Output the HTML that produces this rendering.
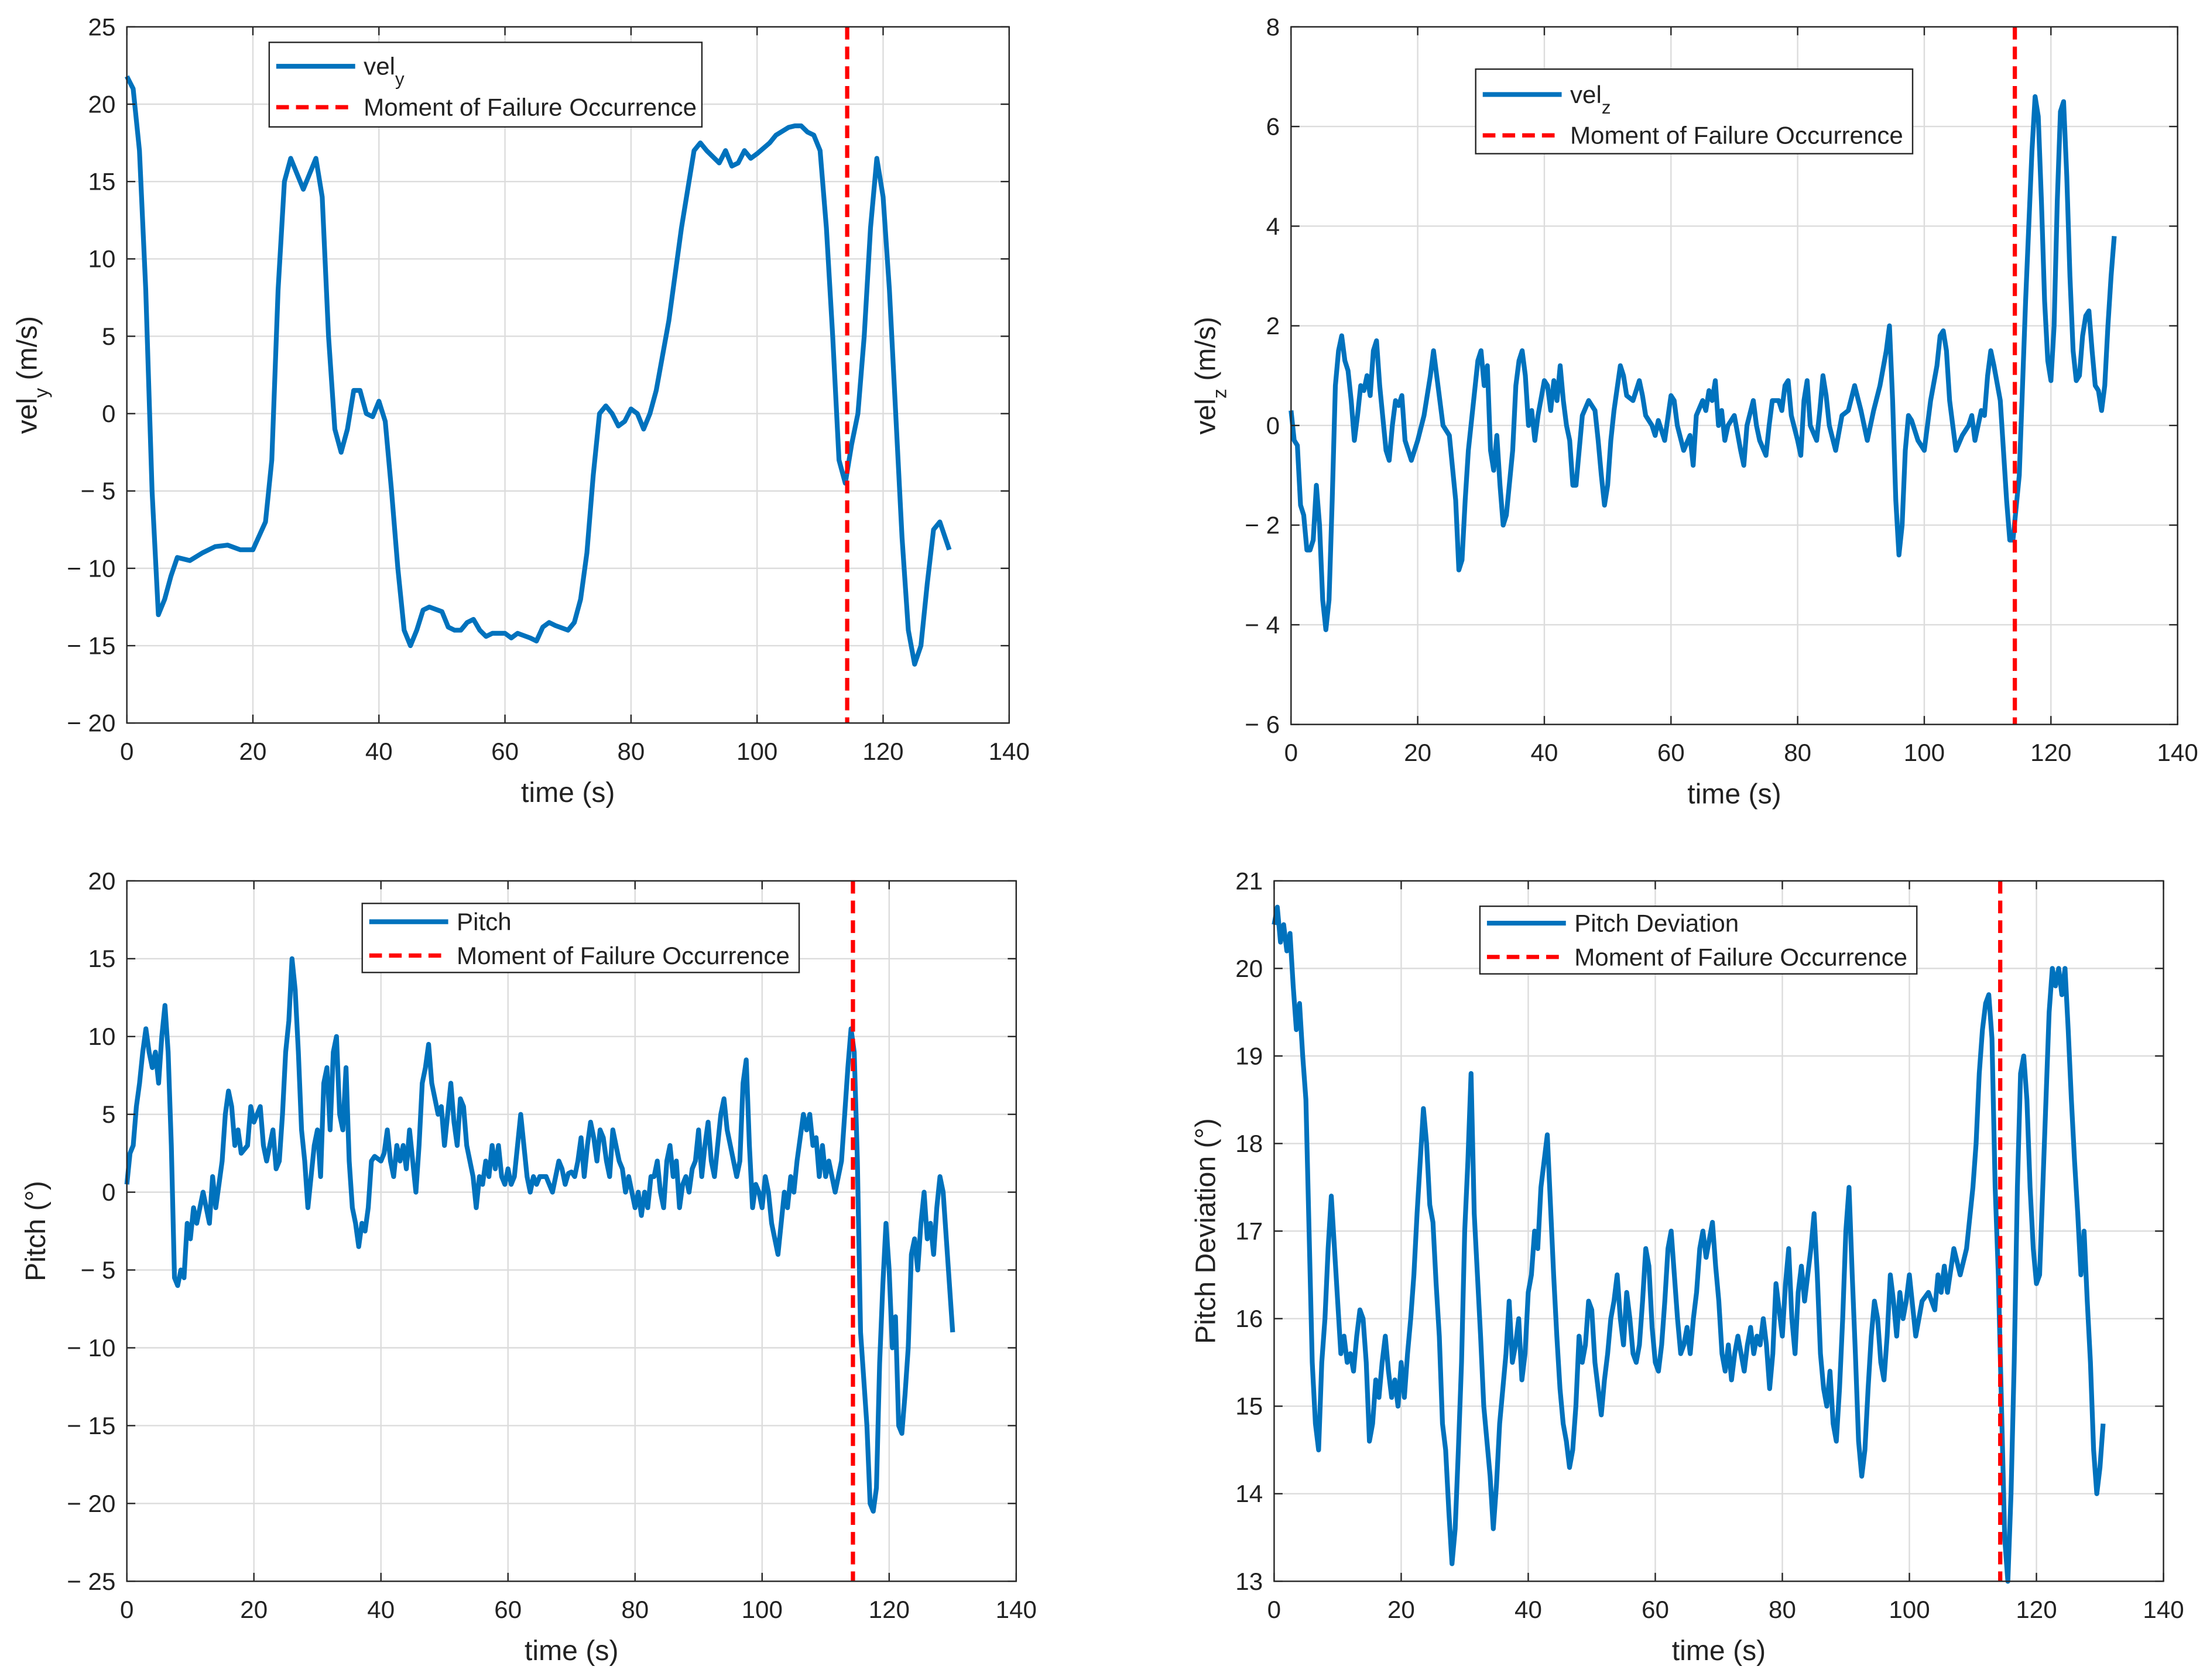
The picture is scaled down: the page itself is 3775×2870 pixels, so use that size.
<!DOCTYPE html>
<html><head><meta charset="utf-8"><style>
html,body{margin:0;padding:0;background:#fff}
svg{display:block}
text{font-family:"Liberation Sans",Arial,sans-serif;fill:#222}
</style></head><body>
<svg id="fig" xmlns="http://www.w3.org/2000/svg" width="3775" height="2870" viewBox="0 0 1568 1192"></svg>
<script>
// ---------- data ----------
const failureTime = 114.3;
const xTicks = [0,20,40,60,80,100,120,140];

const velYTime = [0,1,2,3,4,5,6,7,8,10,12,14,16,18,20,22,23,24,25,26,28,30,31,32,33,34,35,36,37,38,39,40,41,42,43,44,45,46,47,48,50,51,52,53,54,55,56,57,58,60,61,62,64,65,66,67,68,70,71,72,73,74,75,76,77,78,79,80,81,82,83,84,86,88,90,91,92,94,95,96,97,98,99,100,102,103,105,106,107,108,109,110,111,112,113,114,115,116,117,118,119,120,121,122,123,124,125,126,127,128,129,130.5];
const velYValues = [21.8,21,17,8,-5,-13,-12,-10.5,-9.3,-9.5,-9,-8.6,-8.5,-8.8,-8.8,-7,-3,8,15,16.5,14.5,16.5,14,5,-1,-2.5,-1,1.5,1.5,0,-0.2,0.8,-0.5,-5,-10,-14,-15,-14,-12.7,-12.5,-12.8,-13.8,-14,-14,-13.5,-13.3,-14,-14.4,-14.2,-14.2,-14.5,-14.2,-14.5,-14.7,-13.8,-13.5,-13.7,-14,-13.5,-12,-9,-4,0,0.5,0,-0.8,-0.5,0.3,0,-1,0,1.5,6,12,17,17.5,17,16.2,17,16,16.2,17,16.5,16.8,17.5,18,18.5,18.6,18.6,18.2,18,17,12,5,-3,-4.5,-2,0,5,12,16.5,14,8,0,-8,-14,-16.2,-15,-11,-7.5,-7,-8.8];
const velYTicks = [25,20,15,10,5,0,-5,-10,-15,-20];

const velZTime = [0,0.5,1,1.5,2,2.5,3,3.5,4,4.5,5,5.5,6,6.5,7,7.5,8,8.5,9,9.5,10,10.5,11,11.5,12,12.5,13,13.5,14,15,15.5,16,16.5,17,17.5,18,19,20,21,22,22.5,23,24,25,26,26.5,27,27.5,28,29,29.5,30,30.5,31,31.5,32,32.5,33,33.5,34,35,35.5,36,36.5,37,37.5,38,38.5,39,40,40.5,41,41.5,42,42.5,43,43.5,44,44.5,45,45.5,46,47,48,48.5,49,49.5,50,50.5,51,52,52.5,53,54,55,55.5,56,57,57.5,58,59,60,60.5,61,62,63,63.5,64,65,65.5,66,66.5,67,67.5,68,68.5,69,70,71,71.5,72,73,73.5,74,75,75.5,76,77,77.5,78,78.5,79,80,80.5,81,81.5,82,83,83.5,84,84.5,85,86,87,88,89,90,91,92,93,94,94.5,95,95.5,96,96.5,97,97.5,98,99,100,100.5,101,102,102.5,103,103.5,104,104.5,105,106,107,107.5,108,109,109.5,110,110.5,111,112,112.5,113,113.5,114,115,116,117,117.5,118,118.5,119,119.5,120,120.5,121,121.5,122,122.5,123,123.5,124,124.5,125,125.5,126,126.5,127,127.5,128,128.5,129,129.5,130];
const velZValues = [0.3,-0.3,-0.4,-1.6,-1.8,-2.5,-2.5,-2.3,-1.2,-2,-3.5,-4.1,-3.5,-1.5,0.8,1.5,1.8,1.3,1.1,0.5,-0.3,0.2,0.8,0.7,1.0,0.6,1.5,1.7,0.8,-0.5,-0.7,0,0.5,0.4,0.6,-0.3,-0.7,-0.3,0.2,1.0,1.5,1.0,0,-0.2,-1.5,-2.9,-2.7,-1.5,-0.5,0.7,1.3,1.5,0.8,1.2,-0.5,-0.9,-0.2,-1.2,-2.0,-1.8,-0.5,0.8,1.3,1.5,1.0,0,0.3,-0.3,0.2,0.9,0.8,0.3,0.9,0.5,1.2,0.5,0,-0.3,-1.2,-1.2,-0.5,0.2,0.5,0.3,-0.3,-1.0,-1.6,-1.2,-0.3,0.3,1.2,1.0,0.6,0.5,0.9,0.6,0.2,0,-0.2,0.1,-0.3,0.6,0.5,0,-0.5,-0.2,-0.8,0.2,0.5,0.3,0.7,0.5,0.9,0,0.3,-0.3,0,0.2,-0.5,-0.8,0,0.5,0,-0.3,-0.6,0,0.5,0.5,0.3,0.8,0.9,0.2,-0.3,-0.6,0.5,0.9,0,-0.3,0.3,1.0,0.6,0,-0.5,0.2,0.3,0.8,0.3,-0.3,0.3,0.8,1.5,2.0,0.5,-1.5,-2.6,-2.0,-0.5,0.2,0.1,-0.3,-0.5,0,0.5,1.2,1.8,1.9,1.5,0.5,0,-0.5,-0.2,0,0.2,-0.3,0.3,0.2,1.0,1.5,1.2,0.5,-0.5,-1.5,-2.3,-2.3,-1,2.5,5.5,6.6,6.2,4.5,2.5,1.3,0.9,2,4.5,6.3,6.5,5,3,1.5,0.9,1.0,1.8,2.2,2.3,1.5,0.8,0.7,0.3,0.8,2.0,3.0,3.8];
const velZTicks = [8,6,4,2,0,-2,-4,-6];

const pitchTime = [0,0.5,1,1.5,2,2.5,3,3.5,4,4.5,5,5.5,6,6.5,7,7.5,8,8.5,9,9.5,10,10.5,11,11.5,12,12.5,13,13.5,14,15,15.5,16,16.5,17,17.5,18,19,19.5,20,21,21.5,22,22.5,23,23.5,24,24.5,25,25.5,26,26.5,27,27.5,28,28.5,29,29.5,30,30.5,31,31.5,32,32.5,33,33.5,34,34.5,35,35.5,36,36.5,37,37.5,38,38.5,39,40,40.5,41,41.5,42,42.5,43,43.5,44,44.5,45,45.5,46,46.5,47,47.5,48,48.5,49,49.5,50,50.5,51,51.5,52,52.5,53,53.5,54,54.5,55,55.5,56,56.5,57,57.5,58,58.5,59,59.5,60,60.5,61,61.5,62,62.5,63,63.5,64,64.5,65,65.5,66,66.5,67,67.5,68,68.5,69,69.5,70,70.5,71,71.5,72,72.5,73,73.5,74,74.5,75,75.5,76,76.5,77,77.5,78,78.5,79,79.5,80,80.5,81,81.5,82,82.5,83,83.5,84,84.5,85,85.5,86,86.5,87,87.5,88,88.5,89,89.5,90,90.5,91,91.5,92,92.5,93,93.5,94,94.5,95,95.5,96,96.5,97,97.5,98,98.5,99,99.5,100,100.5,101,101.5,102,102.5,103,103.5,104,104.5,105,105.5,106,106.5,107,107.5,108,108.5,109,109.5,110,110.5,111,111.5,112,112.5,113,113.5,114,114.5,115,115.5,116,116.5,117,117.5,118,118.5,119,119.5,120,120.5,121,121.5,122,122.5,123,123.5,124,124.5,125,125.5,126,126.5,127,127.5,128,128.5,129,129.5,130];
const pitchValues = [0.5,2.5,3,5.5,7,9,10.5,9,8,9,7,10,12,9,3,-5.5,-6,-5,-5.5,-2,-3,-1,-2,-1,0,-1,-2,1,-1,2,5,6.5,5.5,3,4,2.5,3,5.5,4.5,5.5,3,2,3,4,1.5,2,5,9,11,15,13,9,4,2,-1,1,3,4,1,7,8,4,9,10,5,4,8,2,-1,-2,-3.5,-2,-2.5,-1,2,2.3,2,2.5,4,2,1,3,2,3,1.5,4,2,0,3,7,8,9.5,7,6,5,5.5,3,5,7,4.5,3,6,5.5,3,2,1,-1,1,0.5,2,1,3,1.5,3,1,0.5,1.5,0.5,1,3,5,3,1,0,1,0.5,1,1,1,0.5,0,1,2,1.5,0.5,1.2,1.3,1,2,3.5,1,3,4.5,3.5,2,4,3.5,2,1,4,3,2,1.5,0,1,0,-1,0,-1.5,0,-1,1,1,2,0,-1,2,3,1,2,-1,0.5,1,0,1.5,2,4,1,3,4.5,2,1,3,5,6,4,3,2,1,2,7,8.5,3,-1,0.5,0,-1,1,0,-2,-3,-4,-2,0,-1,1,0,2,3.5,5,4,5,3,3.5,1,3,1,2,1,0,1,2,5,8,10.5,9,2,-9,-12,-15,-20,-20.5,-19,-11,-6,-2,-5,-10,-8,-15,-15.5,-13,-10,-4,-3,-5,-2,0,-3,-2,-4,-1,1,0,-3,-6,-9];
const pitchTicks = [20,15,10,5,0,-5,-10,-15,-20,-25];

const devTime = [0,0.5,1,1.5,2,2.5,3,3.5,4,4.5,5,5.5,6,6.5,7,7.5,8,8.5,9,9.5,10,10.5,11,11.5,12,12.5,13,13.5,14,14.5,15,15.5,16,16.5,17,17.5,18,18.5,19,19.5,20,20.5,21,21.5,22,22.5,23,23.5,24,24.5,25,25.5,26,26.5,27,27.5,28,28.5,29,29.5,30,30.5,31,31.5,32,32.5,33,33.5,34,34.5,35,35.5,36,36.5,37,37.5,38,38.5,39,39.5,40,40.5,41,41.5,42,42.5,43,43.5,44,44.5,45,45.5,46,46.5,47,47.5,48,48.5,49,49.5,50,50.5,51,51.5,52,52.5,53,53.5,54,54.5,55,55.5,56,56.5,57,57.5,58,58.5,59,59.5,60,60.5,61,61.5,62,62.5,63,63.5,64,64.5,65,65.5,66,66.5,67,67.5,68,68.5,69,69.5,70,70.5,71,71.5,72,72.5,73,73.5,74,74.5,75,75.5,76,76.5,77,77.5,78,78.5,79,79.5,80,80.5,81,81.5,82,82.5,83,83.5,84,84.5,85,85.5,86,86.5,87,87.5,88,88.5,89,89.5,90,90.5,91,91.5,92,92.5,93,93.5,94,94.5,95,95.5,96,96.5,97,97.5,98,98.5,99,99.5,100,101,102,103,104,104.5,105,105.5,106,107,108,109,110,110.5,111,111.5,112,112.5,113,113.5,114,114.5,115,115.5,116,116.5,117,117.5,118,118.5,119,119.5,120,120.5,121,121.5,122,122.5,123,123.5,124,124.5,125,125.5,126,126.5,127,127.5,128,128.5,129,129.5,130,130.5];
const devValues = [20.5,20.7,20.3,20.5,20.2,20.4,19.8,19.3,19.6,19.0,18.5,17,15.5,14.8,14.5,15.5,16,16.8,17.4,16.8,16.2,15.6,15.8,15.5,15.6,15.4,15.8,16.1,16,15.5,14.6,14.8,15.3,15.1,15.5,15.8,15.4,15.1,15.3,15,15.5,15.1,15.6,16,16.5,17.2,17.8,18.4,18,17.3,17.1,16.4,15.8,14.8,14.5,13.8,13.2,13.6,14.5,15.5,17,17.8,18.8,17.2,16.5,15.8,15,14.6,14.2,13.6,14.1,14.8,15.2,15.6,16.2,15.5,15.7,16,15.3,15.6,16.3,16.5,17,16.8,17.5,17.8,18.1,17.3,16.5,15.8,15.2,14.8,14.6,14.3,14.5,15,15.8,15.5,15.7,16.2,16.1,15.5,15.2,14.9,15.3,15.6,16,16.2,16.5,16,15.7,16.3,16,15.6,15.5,15.7,16.2,16.8,16.6,15.9,15.5,15.4,15.7,16.2,16.8,17,16.5,16,15.6,15.7,15.9,15.6,16,16.3,16.8,17,16.7,16.9,17.1,16.6,16.2,15.6,15.4,15.7,15.3,15.6,15.8,15.6,15.4,15.7,15.9,15.6,15.8,15.7,16,15.7,15.2,15.6,16.4,16.1,15.8,16.4,16.8,16,15.6,16.3,16.6,16.2,16.5,16.8,17.2,16.5,15.6,15.2,15,15.4,14.8,14.6,15.2,16,17,17.5,16.5,15.6,14.6,14.2,14.5,15.2,15.8,16.2,16,15.5,15.3,15.8,16.5,16.2,15.8,16.3,16,16.2,16.5,15.8,16.2,16.3,16.1,16.5,16.3,16.6,16.3,16.8,16.5,16.8,17.5,18,18.8,19.3,19.6,19.7,19.2,17.5,16.5,15,13.5,13,14,15.5,17.5,18.8,19,18.5,17.5,16.8,16.4,16.5,17.5,18.5,19.5,20,19.8,20,19.7,20,19.3,18.5,17.8,17.2,16.5,17,16.2,15.5,14.5,14,14.3,14.8];
const devTicks = [21,20,19,18,17,16,15,14,13];

// ---------- drawing ----------
const NS = "http://www.w3.org/2000/svg";
const svg = document.getElementById('fig');
function el(tag, attrs, parent){
  const e = document.createElementNS(NS, tag);
  for (const k in attrs) e.setAttribute(k, attrs[k]);
  (parent||svg).appendChild(e);
  return e;
}
function fmt(v){ return v < 0 ? '\u2212 ' + Math.abs(v) : String(v); }

function panel(cfg){
  const g = el('g', {});
  
  
  const {x0,x1,y0,y1,ymin,ymax} = cfg;
  const sx = t => x0 + (t - 0) / 140 * (x1 - x0);
  const sy = v => y1 - (v - ymin) / (ymax - ymin) * (y1 - y0);
  el('rect', {x:x0, y:y0, width:x1-x0, height:y1-y0, fill:'#fff'}, g);
  const grid = el('g', {stroke:'#dcdcdc','stroke-width':1}, g);
  
  
  xTicks.forEach(t => el('line', {x1:sx(t), x2:sx(t), y1:y0, y2:y1}, grid));
  cfg.yTicks.forEach(v => el('line', {x1:x0, x2:x1, y1:sy(v), y2:sy(v)}, grid));
  const pts = cfg.time.map((t,i) => sx(t).toFixed(2) + ',' + sy(cfg.values[i]).toFixed(2)).join(' ');
  const line = el('polyline', {points:pts, fill:'none', stroke:'#0072BD', 'stroke-width':3.4, 'stroke-linejoin':'round'}, g);
  
  
  const fl = el('line', {x1:sx(failureTime), x2:sx(failureTime), y1:y0, y2:y1, stroke:'#FF0000', 'stroke-width':3, 'stroke-dasharray':'9,5'}, g);
  
  
  el('rect', {x:x0, y:y0, width:x1-x0, height:y1-y0, fill:'none', stroke:'#262626', 'stroke-width':1}, g);
  const tk = el('g', {stroke:'#262626','stroke-width':1}, g);
  xTicks.forEach(t => { el('line',{x1:sx(t),x2:sx(t),y1:y1,y2:y1-6},tk); el('line',{x1:sx(t),x2:sx(t),y1:y0,y2:y0+6},tk); });
  cfg.yTicks.forEach(v => { el('line',{x1:x0,x2:x0+6,y1:sy(v),y2:sy(v)},tk); el('line',{x1:x1,x2:x1-6,y1:sy(v),y2:sy(v)},tk); });
  xTicks.forEach(t => {
    const tx = el('text', {x:sx(t), y:y1+26, 'font-size':17.5, 'text-anchor':'middle'}, g);
    tx.textContent = t;
    
    
  });
  cfg.yTicks.forEach(v => {
    const tx = el('text', {x:x0-8, y:sy(v)+6, 'font-size':17.5, 'text-anchor':'end'}, g);
    tx.textContent = fmt(v);
    
    
  });
  const xt = el('text', {x:(x0+x1)/2, y:y1+56, 'font-size':20, 'text-anchor':'middle'}, g);
  xt.textContent = 'time (s)';
  
  
  const yc = (y0+y1)/2;
  const yt = el('text', {x:cfg.ylx, y:yc, 'font-size':20, 'text-anchor':'middle', transform:`rotate(-90 ${cfg.ylx} ${yc})`}, g);
  yt.innerHTML = cfg.ylabel;
  
  
  const L = cfg.legend;
  const lg = el('g', {}, g);
  
  
  el('rect', {x:L.x, y:L.y, width:L.w, height:L.h, fill:'#fff', stroke:'#262626','stroke-width':1}, lg);
  el('line', {x1:L.x+5, x2:L.x+61, y1:L.l1, y2:L.l1, stroke:'#0072BD','stroke-width':3.4}, lg);
  el('line', {x1:L.x+5, x2:L.x+61, y1:L.l2, y2:L.l2, stroke:'#FF0000','stroke-width':3,'stroke-dasharray':'9,5'}, lg);
  const t1 = el('text', {x:L.x+67, y:L.l1+6, 'font-size':17.5}, lg);
  t1.innerHTML = L.label;
  
  
  const t2 = el('text', {x:L.x+67, y:L.l2+6, 'font-size':17.5}, lg);
  t2.textContent = 'Moment of Failure Occurrence';
  
  
}

panel({name:'vel-y-chart', x0:90, x1:716, y0:19, y1:513, ymin:-20, ymax:25, yTicks:velYTicks, time:velYTime, values:velYValues,
  ylx:26, ylabel:'vel<tspan baseline-shift="sub" font-size="14">y</tspan> (m/s)',
  legend:{x:191,y:30,w:307,h:60,l1:47,l2:76,label:'vel<tspan baseline-shift="sub" font-size="13">y</tspan>'}});
panel({name:'vel-z-chart', x0:916, x1:1545, y0:19, y1:514, ymin:-6, ymax:8, yTicks:velZTicks, time:velZTime, values:velZValues,
  ylx:862, ylabel:'vel<tspan baseline-shift="sub" font-size="14">z</tspan> (m/s)',
  legend:{x:1047,y:49,w:310,h:60,l1:67,l2:96,label:'vel<tspan baseline-shift="sub" font-size="13">z</tspan>'}});
panel({name:'pitch-chart', x0:90, x1:721, y0:625, y1:1122, ymin:-25, ymax:20, yTicks:pitchTicks, time:pitchTime, values:pitchValues,
  ylx:32, ylabel:'Pitch (°)',
  legend:{x:257,y:641,w:310,h:49,l1:654,l2:678,label:'Pitch'}});
panel({name:'pitch-deviation-chart', x0:904, x1:1535, y0:625, y1:1122, ymin:13, ymax:21, yTicks:devTicks, time:devTime, values:devValues,
  ylx:862, ylabel:'Pitch Deviation (°)',
  legend:{x:1050,y:643,w:310,h:48,l1:655,l2:679,label:'Pitch Deviation'}});
</script>
</body></html>
